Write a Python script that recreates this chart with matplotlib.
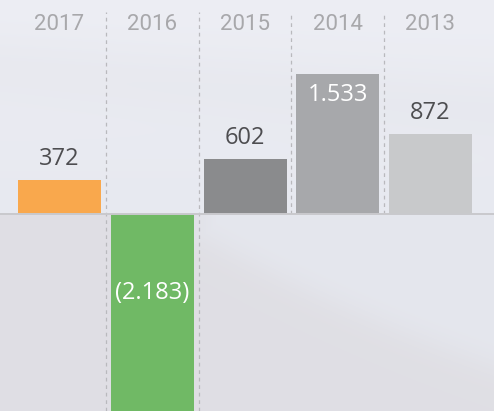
import numpy as np
import matplotlib.pyplot as plt

# === Data ===
years = ["2017", "2016", "2015", "2014", "2013"]
values = [372, -2183, 602, 1533, 872]
labels = ["372", "(2.183)", "602", "1.533", "872"]
bar_colors = ["#f9a84d", "#70b965", "#8a8b8d", "#a7a8ab", "#c8c9cb"]
label_inside = [False, True, False, True, False]

W, H = 494, 411
fig = plt.figure(figsize=(W / 100, H / 100), dpi=100)
ax = fig.add_axes([0, 0, 1, 1])

# pixel -> data helpers (axes fills the figure)
col_w = 92.75
x0_px = 59.5
xlim = (-x0_px / col_w, (W - x0_px) / col_w)
zero_px = 213.7
scale = 0.091  # px per unit
ylim = (-(H - zero_px) / scale, zero_px / scale)
ax.set_xlim(*xlim)
ax.set_ylim(*ylim)

# === Background (soft misty gradient) ===
yy, xx = np.mgrid[0:H, 0:W].astype(float)
top = np.array([237, 238, 244]) / 255
mid = np.array([231, 233, 240]) / 255
dark = np.array([223, 222, 227]) / 255
t = np.clip(yy / zero_px, 0, 1)[..., None]
bg = top * (1 - t) + mid * t
# faint upper haze band
band = np.exp(-((yy - (70 + 0.08 * xx)) / 35) ** 2)[..., None] * 0.35
bg = bg * (1 - band) + (np.array([227, 228, 234]) / 255) * band
# darker hill below the zero line
ridge = 225 + 0.55 * np.clip(xx - 180, 0, None) * (1 - 0.0006 * np.clip(xx - 180, 0, None))
hill = 1 / (1 + np.exp(-(yy - ridge) / 10))
below = (yy > zero_px).astype(float)
left_dark = np.clip(1 - (xx - 180) / 40, 0, 1)
h = np.maximum(hill, left_dark) * below * 0.9
h = h[..., None]
under = np.array([229, 231, 238]) / 255
bg = np.where(below[..., None] > 0, under, bg)
bg = bg * (1 - h) + dark * h
ax.imshow(bg, extent=(xlim[0], xlim[1], ylim[0], ylim[1]), aspect="auto", zorder=0)

x = np.arange(len(years))

# separators
sep_top = (zero_px - 12) / scale
for i in range(len(years) - 1):
    bottom = ylim[0] if i < 2 else 0
    ax.plot([i + 0.5, i + 0.5], [bottom, sep_top], color="#b9b9bd", lw=0.9,
            ls=(0, (3, 3)), zorder=1)

# bars
ax.bar(x, values, width=83 / col_w, color=bar_colors, zorder=2)
ax.axhline(0, color="#c9c9cd", lw=1.4, zorder=3)

# value labels
for i, (v, lab, inside) in enumerate(zip(values, labels, label_inside)):
    if inside:
        if v > 0:
            y = v - 21 / scale
        else:
            y = -(293 - zero_px) / scale
        color = "white"
    else:
        y = v + 21 / scale
        color = "#4d4d50"
    ax.text(i, y, lab, ha="center", va="center", color=color,
            fontsize=17, family=["Open Sans", "DejaVu Sans"], zorder=4)

# year headers
for i, yr in enumerate(years):
    ax.text(i, (zero_px - 25) / scale, yr, ha="center", va="center",
            color="#a8a8ab", fontsize=16, family=["Roboto", "DejaVu Sans"],
            fontweight="normal", zorder=4)

ax.axis("off")
fig.savefig("out.png", dpi=100)
